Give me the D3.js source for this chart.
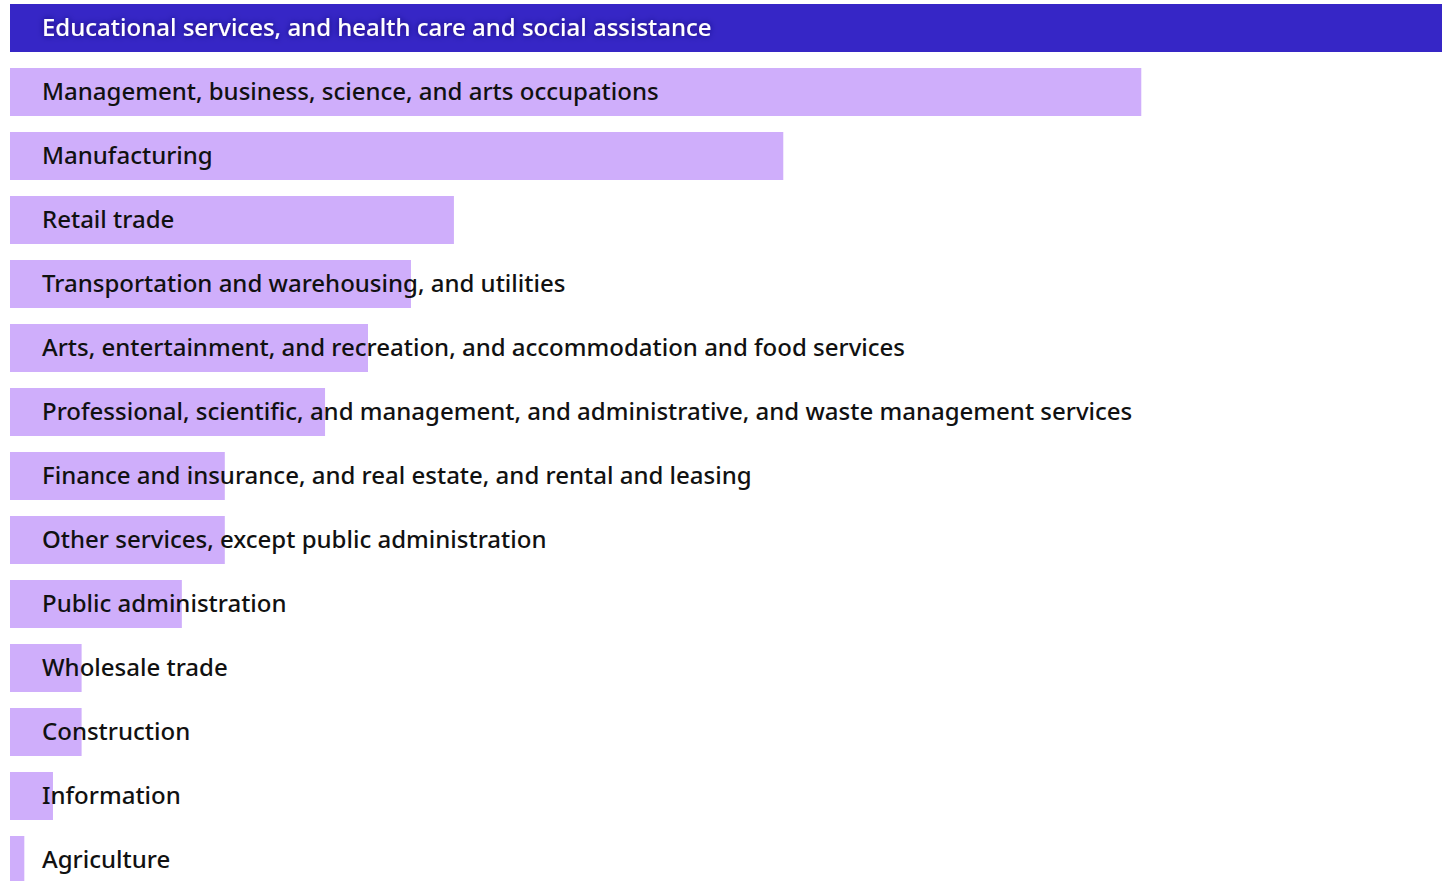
<!DOCTYPE html>
<html>
<head>
<meta charset="utf-8">
<script src="https://cdn.jsdelivr.net/npm/d3@7"></script>
<style>
  body { margin: 0; background: #fff; }
  .label { font-family: "Noto Sans", "Open Sans", sans-serif; font-size: 24px; font-weight: 500; font-variant-ligatures: none; }
</style>
</head>
<body>
<div id="chart"></div>
<script>
// Categories, top to bottom
var categories = [
    "Educational services, and health care and social assistance",
    "Management, business, science, and arts occupations",
    "Manufacturing",
    "Retail trade",
    "Transportation and warehousing, and utilities",
    "Arts, entertainment, and recreation, and accommodation and food services",
    "Professional, scientific, and management, and administrative, and waste management services",
    "Finance and insurance, and real estate, and rental and leasing",
    "Other services, except public administration",
    "Public administration",
    "Wholesale trade",
    "Construction",
    "Information",
    "Agriculture"
];
// Share of the largest bar
var values = [100, 79, 54, 31, 28, 25, 22, 15, 15, 12, 5, 5, 3, 1];

var svgWidth = 1444;
var svgHeight = 881;
var darkColor = "#3626c6";
var lightColor = "#cfaefb";

var svg = d3.select("#chart").append("svg")
    .attr("width", svgWidth)
    .attr("height", svgHeight);

var xScale = d3.scaleLinear()
    .domain([0, 100])
    .range([10, 1442]);

var yScale = d3.scaleBand()
    .domain(categories)
    .range([4, 884])
    .paddingInner(0.25)
    .paddingOuter(0);

var defs = svg.append("defs");
var glow = defs.append("filter").attr("id", "glow")
    .attr("x", "-10%").attr("y", "-50%").attr("width", "120%").attr("height", "200%");
glow.append("feDropShadow")
    .attr("dx", 0).attr("dy", 0).attr("stdDeviation", 3)
    .attr("flood-color", "#1a0a60").attr("flood-opacity", 0.8);

var rows = svg.selectAll(".row")
    .data(categories)
    .enter().append("g")
    .attr("class", "row")
    .attr("transform", function (d) { return "translate(0," + yScale(d) + ")"; });

rows.append("rect")
    .attr("x", xScale(0))
    .attr("width", function (d, i) { return xScale(values[i]) - xScale(0); })
    .attr("height", yScale.bandwidth())
    .attr("fill", function (d, i) { return i === 0 ? darkColor : lightColor; });

rows.append("text")
    .attr("class", "label")
    .attr("x", 42)
    .attr("y", yScale.bandwidth() / 2 - 2)
    .attr("dominant-baseline", "central")
    .attr("fill", function (d, i) { return i === 0 ? "#fff" : "#111"; })
    .attr("filter", function (d, i) { return i === 0 ? "url(#glow)" : null; })
    .text(function (d) { return d; });
</script>
</body>
</html>
